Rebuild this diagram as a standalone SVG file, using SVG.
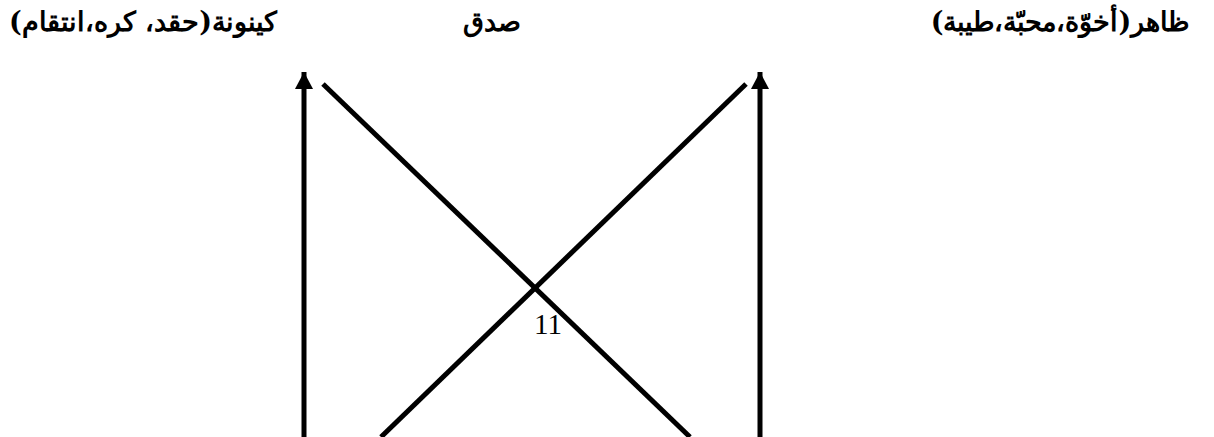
<svg xmlns="http://www.w3.org/2000/svg" width="1214" height="437" viewBox="0 0 1214 437">
<style>
.lbl{font-family:"DejaVu Serif","Liberation Serif","Noto Sans",serif;font-weight:bold;font-size:27px;fill:#000;text-anchor:middle;direction:rtl}
.num{font-family:"Liberation Serif",serif;font-size:29px;fill:#000;text-anchor:middle}
.ln{stroke:#000;stroke-width:5;fill:none}
</style>
<defs>
<marker id="ah" markerUnits="userSpaceOnUse" markerWidth="18" markerHeight="18" refX="17" refY="9" orient="auto">
<path d="M0,0 L17,9 L0,18 Z" fill="#000"/>
</marker>
</defs>
<rect width="1214" height="437" fill="#fff"/>
<g id="n1"><text class="lbl" x="143" y="31">كينونة(حقد، كره،انتقام)</text></g>
<g id="n2"><text class="lbl" x="492" y="31">صدق</text></g>
<g id="n3"><text class="lbl" x="1060" y="31">ظاهر(أخوّة،محبّة،طيبة)</text></g>
<g id="n4"><text class="num" x="548" y="334">11</text></g>
<g id="connectors">
<line class="ln" x1="304" y1="437" x2="304" y2="72" marker-end="url(#ah)"/>
<line class="ln" x1="760" y1="437" x2="760" y2="72" marker-end="url(#ah)"/>
<line class="ln" x1="323" y1="84" x2="690" y2="437"/>
<line class="ln" x1="381" y1="437" x2="746" y2="84"/>
</g>
</svg>
